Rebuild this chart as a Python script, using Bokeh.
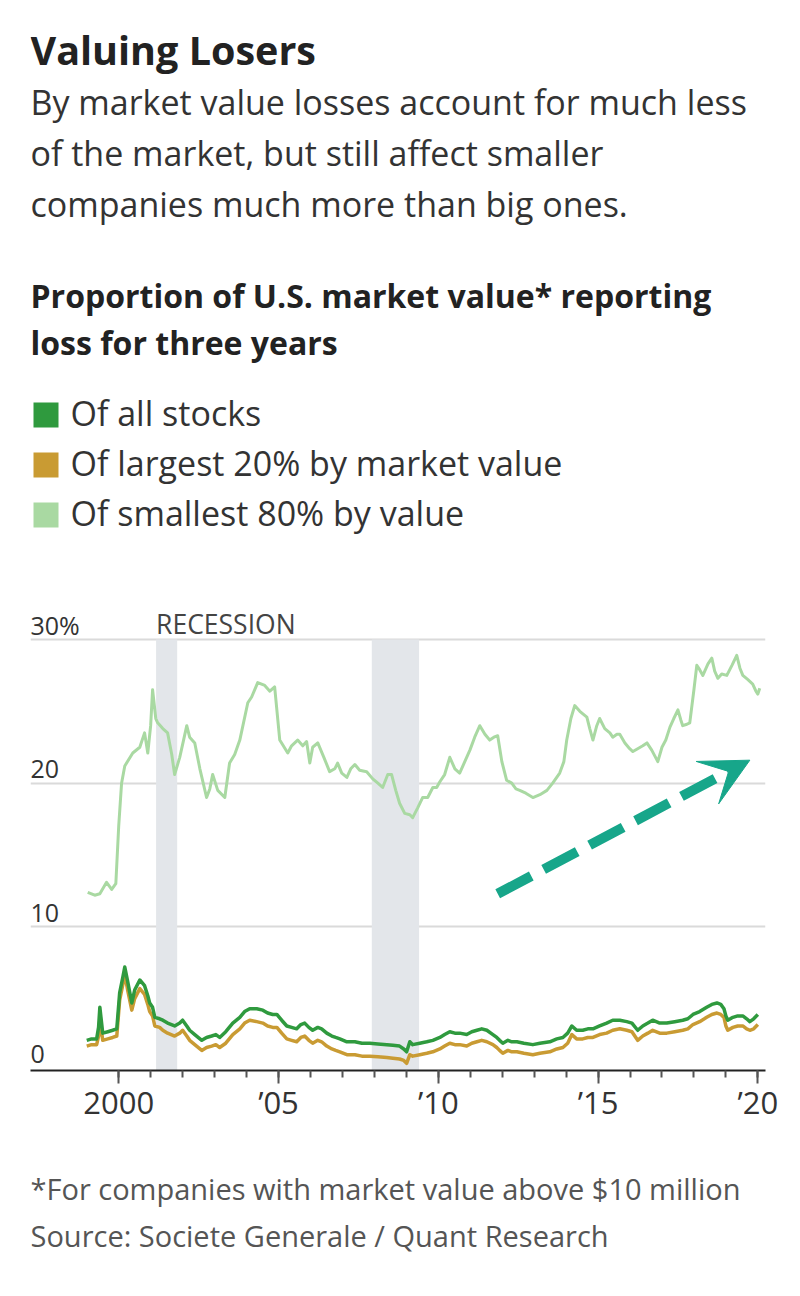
from bokeh.plotting import figure
from bokeh.models import Range1d, FixedTicker, Label, BoxAnnotation, Arrow, VeeHead
from bokeh.layouts import column
from bokeh.embed import file_html
from bokeh.resources import INLINE

# ---------------- data ----------------
# Of smallest 80% by value
small_dates = [
    1999.03, 1999.25, 1999.41, 1999.62, 1999.78, 1999.91, 2000.00, 2000.09, 2000.19, 2000.44,
    2000.66, 2000.81, 2000.91, 2001.00, 2001.06, 2001.16, 2001.22, 2001.38, 2001.53, 2001.66,
    2001.75, 2001.91, 2002.03, 2002.13, 2002.22, 2002.38, 2002.54, 2002.75, 2002.85, 2002.94,
    2003.10, 2003.32, 2003.47, 2003.63, 2003.79, 2004.04, 2004.16, 2004.35, 2004.57, 2004.73,
    2004.88, 2005.04, 2005.29, 2005.41, 2005.60, 2005.76, 2005.88, 2005.98, 2006.07, 2006.23,
    2006.42, 2006.60, 2006.76, 2006.85, 2006.98, 2007.14, 2007.26, 2007.39, 2007.54, 2007.76,
    2007.95, 2008.11, 2008.26, 2008.42, 2008.54, 2008.67, 2008.79, 2008.95, 2009.11, 2009.20,
    2009.36, 2009.51, 2009.67, 2009.83, 2009.95, 2010.05, 2010.20, 2010.36, 2010.52, 2010.67,
    2010.83, 2010.99, 2011.14, 2011.30, 2011.46, 2011.61, 2011.74, 2011.86, 2011.99, 2012.14,
    2012.30, 2012.43, 2012.55, 2012.74, 2012.96, 2013.18, 2013.40, 2013.58, 2013.80, 2013.93,
    2014.02, 2014.15, 2014.27, 2014.43, 2014.65, 2014.74, 2014.84, 2014.96, 2015.05, 2015.21,
    2015.37, 2015.46, 2015.59, 2015.68, 2015.84, 2015.99, 2016.09, 2016.24, 2016.40, 2016.53,
    2016.68, 2016.87, 2017.00, 2017.12, 2017.25, 2017.37, 2017.50, 2017.59, 2017.65, 2017.78,
    2017.87, 2018.00, 2018.09, 2018.18, 2018.28, 2018.44, 2018.56, 2018.65, 2018.75, 2018.87,
    2019.03, 2019.19, 2019.34, 2019.44, 2019.53, 2019.69, 2019.84, 2019.94, 2020.00, 2020.06,
]
small_values = [
    12.4, 12.2, 12.3, 13.1, 12.6, 13.0, 17.0, 20.0, 21.2, 22.1,
    22.5, 23.5, 22.1, 24.0, 26.5, 24.5, 24.2, 23.8, 23.5, 22.0,
    20.6, 21.8, 23.0, 24.0, 23.2, 22.8, 21.0, 19.0, 19.6, 20.6,
    19.5, 19.0, 21.4, 22.0, 23.0, 25.6, 26.0, 27.0, 26.8, 26.4,
    26.7, 23.0, 22.1, 22.6, 23.0, 22.6, 22.9, 21.4, 22.5, 22.8,
    21.8, 20.8, 21.0, 21.4, 20.7, 20.4, 21.0, 21.3, 20.9, 20.8,
    20.3, 20.0, 19.7, 20.6, 20.6, 19.5, 18.6, 17.9, 17.8, 17.6,
    18.3, 19.0, 19.0, 19.7, 19.7, 20.1, 20.6, 21.8, 21.0, 20.7,
    21.5, 22.3, 23.2, 24.0, 23.4, 23.0, 23.2, 23.3, 21.5, 20.2,
    20.0, 19.6, 19.5, 19.3, 19.0, 19.2, 19.5, 20.0, 20.7, 21.5,
    23.0, 24.5, 25.4, 25.0, 24.6, 23.8, 23.0, 24.0, 24.5, 23.8,
    23.5, 23.2, 23.4, 23.4, 22.8, 22.4, 22.2, 22.4, 22.6, 22.8,
    22.3, 21.5, 22.5, 23.0, 23.9, 24.5, 25.1, 24.4, 24.0, 24.1,
    24.2, 26.5, 28.2, 27.9, 27.5, 28.3, 28.7, 27.8, 27.3, 27.6,
    27.5, 28.2, 28.9, 28.0, 27.5, 27.2, 26.9, 26.4, 26.2, 26.6,
]

# Of all stocks / Of largest 20% by market value (shared dates)
big_dates = [
    1999.00, 1999.15, 1999.31, 1999.37, 1999.41, 1999.47, 1999.50, 1999.66, 1999.81, 1999.94,
    2000.03, 2000.13, 2000.19, 2000.28, 2000.41, 2000.50, 2000.66, 2000.81, 2000.91, 2000.97,
    2001.06, 2001.13, 2001.28, 2001.38, 2001.53, 2001.75, 2001.91, 2002.00, 2002.13, 2002.22,
    2002.38, 2002.60, 2002.75, 2002.91, 2003.04, 2003.16, 2003.35, 2003.57, 2003.79, 2003.94,
    2004.10, 2004.32, 2004.51, 2004.66, 2004.82, 2004.95, 2005.10, 2005.26, 2005.41, 2005.57,
    2005.70, 2005.82, 2005.95, 2006.07, 2006.23, 2006.35, 2006.51, 2006.67, 2006.79, 2006.92,
    2007.14, 2007.39, 2007.61, 2007.86, 2008.11, 2008.39, 2008.58, 2008.79, 2008.92, 2009.01,
    2009.11, 2009.20, 2009.42, 2009.64, 2009.83, 2010.05, 2010.20, 2010.36, 2010.52, 2010.67,
    2010.89, 2011.05, 2011.21, 2011.36, 2011.52, 2011.71, 2011.83, 2011.92, 2012.02, 2012.18,
    2012.30, 2012.46, 2012.68, 2012.96, 2013.18, 2013.49, 2013.71, 2013.90, 2014.05, 2014.18,
    2014.33, 2014.52, 2014.68, 2014.84, 2015.05, 2015.27, 2015.46, 2015.68, 2015.90, 2016.06,
    2016.24, 2016.40, 2016.56, 2016.71, 2016.93, 2017.15, 2017.40, 2017.65, 2017.81, 2017.97,
    2018.18, 2018.40, 2018.56, 2018.72, 2018.84, 2018.94, 2019.00, 2019.06, 2019.22, 2019.37,
    2019.53, 2019.65, 2019.75, 2019.87, 2020.00,
]
all_values = [
    2.1, 2.2, 2.2, 3.0, 4.4, 3.2, 2.6, 2.7, 2.8, 2.9,
    5.4, 6.5, 7.2, 6.2, 4.7, 5.6, 6.3, 5.9, 5.2, 4.7,
    4.4, 3.7, 3.6, 3.5, 3.3, 3.1, 3.3, 3.5, 3.1, 2.8,
    2.5, 2.1, 2.3, 2.4, 2.5, 2.3, 2.7, 3.3, 3.7, 4.1,
    4.3, 4.3, 4.2, 4.0, 3.9, 3.9, 3.5, 3.1, 3.0, 2.9,
    3.2, 3.3, 3.0, 2.8, 3.0, 2.9, 2.6, 2.4, 2.3, 2.2,
    2.0, 2.0, 1.9, 1.9, 1.85, 1.8, 1.75, 1.7, 1.5, 1.3,
    2.0, 1.8, 1.9, 2.0, 2.1, 2.3, 2.5, 2.7, 2.6, 2.6,
    2.5, 2.7, 2.8, 2.9, 2.8, 2.5, 2.3, 2.1, 1.9, 2.1,
    2.0, 2.0, 1.9, 1.8, 1.9, 2.0, 2.2, 2.3, 2.6, 3.1,
    2.8, 2.8, 2.9, 2.9, 3.1, 3.3, 3.5, 3.5, 3.4, 3.3,
    2.8, 3.1, 3.3, 3.5, 3.3, 3.3, 3.4, 3.5, 3.6, 3.9,
    4.1, 4.4, 4.6, 4.7, 4.6, 4.3, 3.8, 3.5, 3.7, 3.8,
    3.8, 3.6, 3.4, 3.6, 3.9,
]
largest_values = [
    1.7, 1.8, 1.8, 2.4, 3.6, 2.6, 2.1, 2.2, 2.3, 2.4,
    4.9, 6.0, 6.7, 5.6, 4.2, 5.0, 5.7, 5.3, 4.6, 4.1,
    3.8, 3.1, 3.0, 2.8, 2.6, 2.4, 2.6, 2.8, 2.4, 2.1,
    1.8, 1.4, 1.6, 1.7, 1.8, 1.6, 1.9, 2.5, 2.9, 3.3,
    3.5, 3.4, 3.3, 3.1, 3.0, 3.0, 2.6, 2.2, 2.1, 2.0,
    2.3, 2.4, 2.1, 1.9, 2.1, 2.0, 1.7, 1.5, 1.4, 1.3,
    1.1, 1.1, 1.0, 1.0, 0.95, 0.9, 0.85, 0.8, 0.7, 0.5,
    1.1, 1.0, 1.1, 1.2, 1.3, 1.5, 1.7, 1.9, 1.8, 1.8,
    1.7, 1.9, 2.0, 2.1, 2.0, 1.8, 1.6, 1.4, 1.2, 1.4,
    1.3, 1.3, 1.2, 1.1, 1.2, 1.3, 1.5, 1.6, 1.9, 2.5,
    2.2, 2.2, 2.3, 2.3, 2.5, 2.6, 2.8, 2.9, 2.8, 2.7,
    2.1, 2.4, 2.6, 2.8, 2.6, 2.6, 2.7, 2.8, 2.9, 3.2,
    3.4, 3.7, 3.9, 4.0, 3.9, 3.7, 3.1, 2.8, 3.0, 3.1,
    3.1, 2.9, 2.8, 2.9, 3.2,
]

recession_starts = [2001.17, 2007.92]
recession_ends = [2001.83, 2009.40]

series_names = ["Of all stocks", "Of largest 20% by market value", "Of smallest 80% by value"]
series_colors = ["#2f9a3e", "#c99b33", "#a9d9a2"]

y_ticks = [0, 10, 20, 30]
y_tick_labels = ["0", "10", "20", "30%"]
x_ticks = [2000, 2005, 2010, 2015, 2020]
x_tick_labels = ["2000", "\u201905", "\u201910", "\u201915", "\u201920"]
x_minor_ticks = list(range(2000, 2021))

# trend arrow annotation (data coordinates: x0, y0, x1, y1)
trend_arrow = (2011.86, 12.3, 2019.75, 21.6)

title = "Valuing Losers"
subtitle = ["By market value losses account for much less",
            "of the market, but still affect smaller",
            "companies much more than big ones."]
chart_title = ["Proportion of U.S. market value* reporting", "loss for three years"]
notes = ["*For companies with market value above $10 million",
         "Source: Societe Generale / Quant Research"]

FONT = "Open Sans"
W = 800
LEFT, RIGHT = 30, 35   # shared frame margins so all three panels line up


def blank_fig(height):
    f = figure(width=W, height=height, x_range=Range1d(0, 1), y_range=Range1d(0, 1),
               output_backend="svg", toolbar_location=None,
               x_axis_location=None, y_axis_location=None,
               min_border_left=LEFT, min_border_right=RIGHT,
               min_border_top=0, min_border_bottom=0)
    f.grid.visible = False
    f.outline_line_color = None
    f.background_fill_color = "white"
    f.border_fill_color = "white"
    return f


def txt(fig, s, x, baseline_from_bottom, size, color="#333333", style="normal"):
    # x: px from frame left; baseline measured up from frame bottom
    fig.add_layout(Label(x=x, y=baseline_from_bottom + 0.4 * size,
                         x_units="screen", y_units="screen", text=s,
                         text_font=FONT, text_font_size=f"{size}px", text_color=color,
                         text_font_style=style, text_baseline="alphabetic"))


# ---------------- header (0..600 px) ----------------
HEAD_H = 600
head = blank_fig(HEAD_H)
txt(head, title, 0, HEAD_H - 65, 39.5, "#222222", "bold")
for i, line in enumerate(subtitle):
    txt(head, line, 0, HEAD_H - 115 - 51 * i, 34, "#333333")
for i, line in enumerate(chart_title):
    txt(head, line, 0, HEAD_H - 308 - 47 * i, 32, "#222222", "bold")
for i, (name, col) in enumerate(zip(series_names, series_colors)):
    top = HEAD_H - 402 - 50 * i
    head.add_layout(BoxAnnotation(left=3, right=28, top=top, bottom=top - 25,
                                  left_units="screen", right_units="screen",
                                  top_units="screen", bottom_units="screen",
                                  fill_color=col, fill_alpha=1.0, line_color=None))
    txt(head, name, 40, top - 24, 34, "#333333")

# ---------------- chart (600..1140 px) ----------------
CH_H = 540
y_top = 30 + 39 / 14.367  # frame extends above the 30% line so its label is visible
p = figure(width=W, height=CH_H,
           x_range=Range1d(1997.24, 2020.24), y_range=Range1d(0, y_top),
           output_backend="svg", toolbar_location=None, y_axis_location=None,
           min_border_left=LEFT, min_border_right=RIGHT, min_border_top=0, min_border_bottom=70)
p.outline_line_color = None
p.background_fill_color = "white"
p.border_fill_color = "white"

p.xgrid.visible = False
p.ygrid.ticker = FixedTicker(ticks=y_ticks)
p.ygrid.grid_line_color = "#dadada"
p.ygrid.grid_line_width = 2

ax = p.xaxis[0]
ax.ticker = FixedTicker(ticks=x_ticks, minor_ticks=x_minor_ticks)
ax.major_label_overrides = {t: l for t, l in zip(x_ticks, x_tick_labels)}
ax.axis_line_color = "#222222"
ax.axis_line_width = 2
ax.major_tick_line_color = "#555555"
ax.major_tick_line_width = 2
ax.major_tick_out = 13
ax.major_tick_in = 0
ax.minor_tick_line_color = "#555555"
ax.minor_tick_line_width = 2
ax.minor_tick_out = 7
ax.minor_tick_in = 0
ax.major_label_text_font = FONT
ax.major_label_text_font_size = "31px"
ax.major_label_text_color = "#333333"
ax.major_label_standoff = -3

for rs, re_ in zip(recession_starts, recession_ends):
    p.add_layout(BoxAnnotation(left=rs, right=re_, bottom=y_ticks[0], top=y_ticks[-1],
                               fill_color="#e3e6ea", fill_alpha=1.0,
                               line_color=None, level="underlay"))

p.add_layout(Label(x=recession_starts[0], y=y_ticks[-1], y_offset=5 + 0.4 * 26.5, text="RECESSION",
                   text_font=FONT, text_font_size="26.5px", text_color="#444444",
                   text_baseline="alphabetic"))

p.line(small_dates, small_values, line_color=series_colors[2], line_width=3, line_join="round")
p.line(big_dates, largest_values, line_color=series_colors[1], line_width=3.5, line_join="round")
p.line(big_dates, all_values, line_color=series_colors[0], line_width=3.5, line_join="round")

for v, t in zip(y_ticks, y_tick_labels):
    p.add_layout(Label(x=0, x_units="screen", y=v, y_offset=(7 if v == 0 else 4) + 0.4 * 25, text=t,
                       text_font=FONT, text_font_size="25px", text_color="#333333",
                       text_baseline="alphabetic"))

teal = "#17a68a"
p.add_layout(Arrow(x_start=trend_arrow[0], y_start=trend_arrow[1],
                   x_end=trend_arrow[2], y_end=trend_arrow[3],
                   line_color=teal, line_width=10, line_dash="38 14",
                   end=VeeHead(size=48, fill_color=teal, line_color=teal, line_width=1)))

# ---------------- footer (1140..1296 px) ----------------
FOOT_H = 156
foot = blank_fig(FOOT_H)
for i, line in enumerate(notes):
    txt(foot, line, 0, FOOT_H - (1200 - 1140) - 47 * i, 29, "#555555")

layout = column(head, p, foot, spacing=0)
open("out.html", "w").write(file_html(layout, INLINE))
